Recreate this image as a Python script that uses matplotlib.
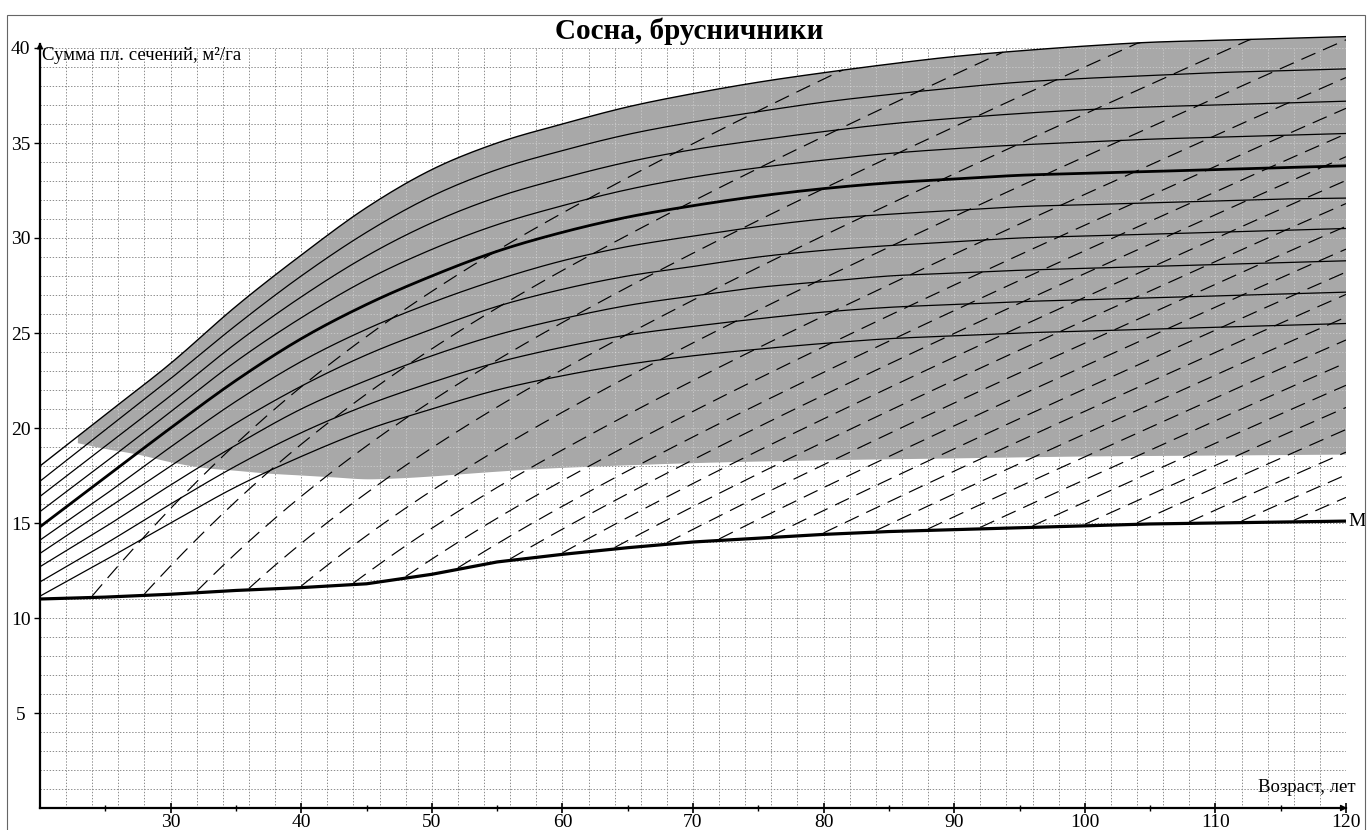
import numpy as np
import matplotlib
matplotlib.use("Agg")
import matplotlib.pyplot as plt
from matplotlib.patches import Rectangle, Polygon

plt.rcParams['font.family'] = ['Liberation Serif', 'DejaVu Serif']
plt.rcParams['lines.scale_dashes'] = False

# ---------------- data ----------------
ages = [20, 25, 30, 35, 40, 45, 50, 55, 60, 65, 70, 75, 80, 85, 90, 95, 100, 105, 110, 115, 120]

# basal-area curves for relative stocking levels (m2/ha)
bs_120 = [18.0, 20.7, 23.4, 26.4, 29.1, 31.6, 33.6, 35.0, 36.0, 36.9, 37.6, 38.2, 38.7, 39.15, 39.55, 39.85, 40.1, 40.3, 40.4, 40.5, 40.6]
bs_115 = [17.2, 19.9, 22.6, 25.4, 28.0, 30.3, 32.2, 33.6, 34.6, 35.45, 36.1, 36.65, 37.15, 37.55, 37.9, 38.2, 38.4, 38.55, 38.7, 38.8, 38.9]
bs_110 = [16.4, 19.05, 21.7, 24.45, 26.9, 29.05, 30.8, 32.15, 33.15, 34.0, 34.65, 35.15, 35.6, 36.0, 36.3, 36.55, 36.75, 36.9, 37.0, 37.1, 37.2]
bs_105 = [15.6, 18.2, 20.85, 23.5, 25.8, 27.8, 29.4, 30.7, 31.7, 32.55, 33.2, 33.7, 34.1, 34.45, 34.7, 34.9, 35.05, 35.2, 35.3, 35.4, 35.5]
bs_100 = [14.8, 17.4, 20.0, 22.5, 24.7, 26.5, 28.0, 29.3, 30.3, 31.1, 31.7, 32.2, 32.6, 32.9, 33.1, 33.3, 33.4, 33.5, 33.6, 33.7, 33.8]
bs_095 = [14.1, 16.5, 19.0, 21.4, 23.5, 25.2, 26.6, 27.8, 28.8, 29.55, 30.1, 30.6, 31.0, 31.25, 31.45, 31.65, 31.75, 31.85, 31.95, 32.05, 32.1]
bs_090 = [13.4, 15.7, 18.0, 20.25, 22.2, 23.85, 25.2, 26.4, 27.3, 28.0, 28.5, 29.0, 29.35, 29.6, 29.8, 30.0, 30.1, 30.2, 30.3, 30.4, 30.5]
bs_085 = [12.7, 14.8, 17.0, 19.1, 21.0, 22.5, 23.8, 24.9, 25.75, 26.45, 26.95, 27.4, 27.7, 28.0, 28.15, 28.3, 28.4, 28.5, 28.6, 28.7, 28.8]
bs_080 = [11.9, 13.9, 16.0, 18.0, 19.75, 21.2, 22.4, 23.45, 24.25, 24.9, 25.35, 25.75, 26.1, 26.35, 26.5, 26.65, 26.75, 26.85, 26.95, 27.05, 27.15]
bs_075 = [11.15, 13.05, 15.0, 16.9, 18.5, 19.9, 21.0, 22.0, 22.75, 23.35, 23.8, 24.15, 24.45, 24.7, 24.85, 25.0, 25.1, 25.2, 25.3, 25.4, 25.5]

# minimum line "M"
m_ages = [20, 25, 30, 35, 40, 45, 50, 55, 60, 65, 70, 75, 80, 85, 90, 95, 100, 105, 110, 115, 120]
m_vals = [11.0, 11.1, 11.25, 11.45, 11.6, 11.8, 12.3, 12.95, 13.35, 13.7, 14.0, 14.2, 14.4, 14.55, 14.65, 14.75, 14.85, 14.95, 15.0, 15.05, 15.1]

# lower edge of the shaded zone
shade_lo_x = [22.9, 25, 27.5, 30, 32.5, 35, 37.5, 40, 42.5, 45, 47.5, 50, 55, 60, 70, 80, 90, 100, 110, 120]
shade_lo_y = [19.2, 18.9, 18.6, 18.2, 17.9, 17.75, 17.6, 17.5, 17.4, 17.3, 17.35, 17.45, 17.7, 17.9, 18.15, 18.3, 18.4, 18.5, 18.55, 18.6]

# dashed growth lines: start ages on line M and growth rate (m2/ha per year) by age
dash_start_ages = [24, 28, 32, 36, 40, 44, 48, 52, 56, 60, 64, 68, 72, 76, 80, 84, 88, 92, 96, 100, 104, 108, 112, 116]
rate_ages = [20, 25, 30, 35, 40, 45, 50, 55, 60, 70, 80, 90, 100, 110, 120]
rate_vals = [0.85, 0.80, 0.72, 0.64, 0.56, 0.50, 0.45, 0.41, 0.38, 0.35, 0.33, 0.32, 0.31, 0.31, 0.30]

x_ticks = [30, 40, 50, 60, 70, 80, 90, 100, 110, 120]
y_ticks = [5, 10, 15, 20, 25, 30, 35, 40]


def smooth(x, y, n=16):
    """Catmull-Rom rendering of a curve through the given points."""
    P = np.column_stack([np.asarray(x, float), np.asarray(y, float)])
    P = np.vstack([2 * P[0] - P[1], P, 2 * P[-1] - P[-2]])
    out = []
    t = np.linspace(0, 1, n, endpoint=False)[:, None]
    for i in range(1, len(P) - 2):
        p0, p1, p2, p3 = P[i - 1], P[i], P[i + 1], P[i + 2]
        out.append(0.5 * (2 * p1 + (-p0 + p2) * t + (2 * p0 - 5 * p1 + 4 * p2 - p3) * t ** 2
                          + (-p0 + 3 * p1 - 3 * p2 + p3) * t ** 3))
    out.append(P[-2][None, :])
    pts = np.vstack(out)
    return pts[:, 0], pts[:, 1]


# ---------------- figure ----------------
W, H = 1368, 830
fig = plt.figure(figsize=(W / 100, H / 100), dpi=100)
ax_left, ax_right = 40, 1346
ax_bottom_px = 808
y_top = 41.2
px_per_unit = 19.0
ax_top_px = ax_bottom_px - y_top * px_per_unit
ax = fig.add_axes([ax_left / W, (H - ax_bottom_px) / H,
                   (ax_right - ax_left) / W, (ax_bottom_px - ax_top_px) / H])
ax.set_xlim(20, 120)
ax.set_ylim(0, y_top)
for s in ax.spines.values():
    s.set_visible(False)
ax.patch.set_alpha(0)

# grid
grid_x = np.arange(22, 121, 2)
grid_y = np.arange(1, 41, 1)
gkw = dict(color='#8c8c8c', lw=0.7, linestyles=(0, (1, 1.2)), zorder=1)
ax.vlines(grid_x, 0, 40, **gkw)
ax.hlines(grid_y, 20, 120, **gkw)

# smoothed upper bound
tx, ty = smooth(ages, bs_120)

# shaded zone
xx = np.linspace(22.9, 120, 500)
top_y = np.interp(xx, tx, ty)
lx, ly = smooth(shade_lo_x, shade_lo_y)
lo_y = np.interp(xx, lx, ly)
poly_pts = np.vstack([np.column_stack([xx, top_y]), np.column_stack([xx[::-1], lo_y[::-1]])])
poly = Polygon(poly_pts, closed=True, facecolor='#a8a8a8', edgecolor='none', zorder=2)
ax.add_patch(poly)
# faint lighter grid seen through the shading
g2 = dict(color='white', lw=0.7, linestyles=(0, (1, 1.2)), alpha=0.35, zorder=2.5)
v2 = ax.vlines(grid_x, 0, 40, **g2)
h2 = ax.hlines(grid_y, 20, 120, **g2)
v2.set_clip_path(poly)
h2.set_clip_path(poly)

# dashed growth lines
for a0 in dash_start_ages:
    xs = [a0]
    ys = [float(np.interp(a0, m_ages, m_vals)) + 0.08]
    a, y = xs[0], ys[0]
    while a < 120 - 1e-9:
        step = min(0.25, 120 - a)
        y_new = y + float(np.interp(a + step / 2, rate_ages, rate_vals)) * step
        a_new = a + step
        top = float(np.interp(a_new, tx, ty))
        if y_new >= top:
            xs.append(a_new)
            ys.append(top)
            break
        a, y = a_new, y_new
        xs.append(a)
        ys.append(y)
    ax.plot(xs, ys, color='black', lw=0.85, dashes=(11, 6), zorder=3)

# solid stocking curves
for curve in [bs_115, bs_110, bs_105, bs_095, bs_090, bs_085, bs_080, bs_075]:
    cx, cy = smooth(ages, curve)
    ax.plot(cx, cy, color='black', lw=0.9, zorder=4)
ax.plot(tx, ty, color='black', lw=1.0, zorder=4)
cx, cy = smooth(ages, bs_100)
ax.plot(cx, cy, color='black', lw=2.0, zorder=5)
ax.plot(m_ages, m_vals, color='black', lw=2.3, zorder=5, solid_capstyle='butt')

# axes lines with arrows
ax.plot([20, 120], [0, 0], color='black', lw=1.6, zorder=6, clip_on=False)
ax.plot([20, 20], [0, 40.2], color='black', lw=1.6, zorder=6, clip_on=False)
ax.annotate('', xy=(120.3, 0), xytext=(119.3, 0),
            arrowprops=dict(arrowstyle='-|>', color='black', lw=1.0, mutation_scale=9),
            annotation_clip=False, zorder=6)
ax.annotate('', xy=(20, 40.45), xytext=(20, 39.7),
            arrowprops=dict(arrowstyle='-|>', color='black', lw=1.0, mutation_scale=9),
            annotation_clip=False, zorder=6)

# ticks
ax.set_xticks(x_ticks)
ax.set_xticklabels([str(t) for t in x_ticks], fontsize=14)
ax.set_xticks(np.arange(25, 120, 10), minor=True)
ax.tick_params(axis='x', which='major', direction='inout', length=7, width=1.2, pad=1)
ax.tick_params(axis='x', which='minor', direction='inout', length=5, width=1.0)
ax.set_yticks(y_ticks)
ax.set_yticklabels([str(t) for t in y_ticks], fontsize=14)
ax.tick_params(axis='y', which='major', direction='out', length=4, width=1.0, pad=10)
for lbl in ax.get_yticklabels():
    lbl.set_horizontalalignment('center')

# texts
fig.text(689 / W, 1 - 31 / H, 'Сосна, брусничники', ha='center', va='center',
         fontsize=21, fontweight='bold')
ax.text(20.15, 40.05, 'Сумма пл. сечений, м²/га', ha='left', va='top', fontsize=13.5, zorder=7)
ax.text(120.7, 0.85, 'Возраст, лет', ha='right', va='baseline', fontsize=13.5, zorder=7, clip_on=False)
ax.text(120.2, 15.1, 'M', ha='left', va='center', fontsize=14, zorder=7, clip_on=False)

# outer frame of the sheet
fig.patches.append(Rectangle((7 / W, -0.01), (1365 - 7) / W, 1 - 15 / H + 0.01,
                             transform=fig.transFigure, fill=False,
                             edgecolor='#666666', lw=0.8))

fig.savefig('out.png', dpi=100)
